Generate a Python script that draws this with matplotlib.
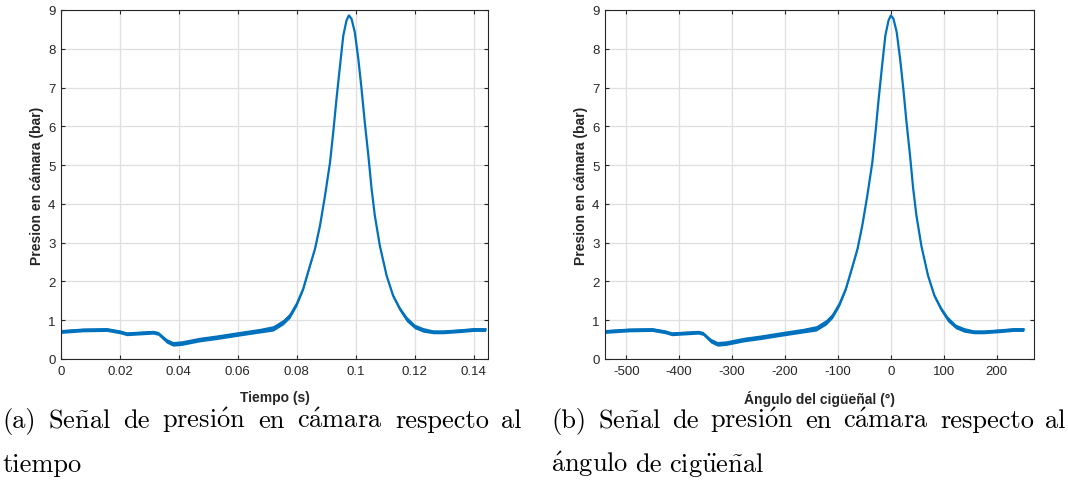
import matplotlib
matplotlib.use("Agg")
import matplotlib.pyplot as plt
from matplotlib.ticker import FormatStrFormatter

# ---- data ----
time_s = [0.0, 0.0076, 0.0155, 0.020, 0.0223, 0.0313, 0.033, 0.0358, 0.038, 0.041,
          0.047, 0.0528, 0.060, 0.0675, 0.072, 0.0754, 0.0777, 0.080, 0.0822, 0.0845,
          0.0862, 0.0879, 0.0896, 0.0913, 0.0924, 0.0935, 0.0947, 0.0958, 0.0969, 0.0977,
          0.0986, 0.0997, 0.1009, 0.102, 0.1031, 0.1043, 0.1054, 0.1065, 0.1082, 0.1105,
          0.1127, 0.115, 0.1173, 0.120, 0.1229, 0.1263, 0.1297, 0.1354, 0.140, 0.1441]
angle_deg = [-540, -494, -451, -426, -414, -364, -355, -340, -327.5, -311,
             -278, -246, -207, -166, -141, -122, -110, -97, -85, -72,
             -63, -54, -44.5, -35, -29, -23, -16.5, -10.4, -4.4, 0,
             5, 11, 17.5, 23.6, 29.6, 36.2, 42.2, 48.3, 57.6, 70.2,
             82.3, 94.9, 107.5, 122.3, 138.2, 156.9, 175.5, 206.8, 232, 251]
pressure_bar = [0.71, 0.75, 0.76, 0.70, 0.65, 0.69, 0.66, 0.47, 0.39, 0.41,
                0.50, 0.56, 0.645, 0.73, 0.79, 0.95, 1.12, 1.42, 1.81, 2.41,
                2.84, 3.44, 4.21, 5.07, 5.85, 6.71, 7.57, 8.34, 8.73, 8.86,
                8.77, 8.43, 7.74, 6.96, 6.10, 5.25, 4.39, 3.70, 2.92, 2.15,
                1.63, 1.29, 1.03, 0.84, 0.75, 0.70, 0.70, 0.73, 0.76, 0.76]
# half-thickness of the visible noise band around the signal
noise_bar = [0.05, 0.05, 0.05, 0.05, 0.05, 0.05, 0.05, 0.06, 0.06, 0.06,
             0.06, 0.06, 0.06, 0.06, 0.07, 0.07, 0.07, 0.06, 0.04, 0.03,
             0.02, 0.01, 0.0, 0.0, 0.0, 0.0, 0.0, 0.0, 0.0, 0.0,
             0.0, 0.0, 0.0, 0.0, 0.0, 0.0, 0.0, 0.01, 0.02, 0.03,
             0.05, 0.06, 0.07, 0.06, 0.06, 0.05, 0.05, 0.05, 0.05, 0.05]

xticks_time = [0, 0.02, 0.04, 0.06, 0.08, 0.1, 0.12, 0.14]
xticks_angle = [-500, -400, -300, -200, -100, 0, 100, 200]
yticks_p = list(range(0, 10))

ylabel = "Presion en cámara (bar)"
xlabel_a = "Tiempo (s)"
xlabel_b = "Ángulo del cigüeñal (°)"

caption_a1 = [r"(a)", r"$\mathrm{Se\tilde{n}al}$", "de", r"$\mathrm{presi\acute{o}n}$", "en",
              r"$\mathrm{c\acute{a}mara}$", "respecto", "al"]
caption_a2 = "tiempo"
caption_b1 = [r"(b)", r"$\mathrm{Se\tilde{n}al}$", "de", r"$\mathrm{presi\acute{o}n}$", "en",
              r"$\mathrm{c\acute{a}mara}$", "respecto", "al"]
caption_b2 = [r"$\mathrm{\acute{a}ngulo}$", "de", r"$\mathrm{cig\ddot{u}e\tilde{n}al}$"]

plt.rcParams['mathtext.fontset'] = 'cm'

LINE = '#0072BD'
DARK = '#262626'

W, H = 1068, 481
fig = plt.figure(figsize=(W / 100, H / 100), dpi=100)
ax1 = fig.add_axes([0.0571, 0.2516, 0.3998, 0.7256])
ax2 = fig.add_axes([0.5665, 0.2516, 0.4017, 0.7256])


def style(ax, xticks, xlim, xlabel):
    ax.set_xlim(*xlim)
    ax.set_ylim(0, 9)
    ax.set_xticks(xticks)
    ax.set_yticks(yticks_p)
    ax.xaxis.set_major_formatter(FormatStrFormatter('%g'))
    ax.yaxis.set_major_formatter(FormatStrFormatter('%g'))
    ax.grid(True, color='#dfdfdf', linewidth=0.9)
    ax.set_axisbelow(True)
    for s in ax.spines.values():
        s.set_color(DARK)
        s.set_linewidth(0.8)
    ax.tick_params(direction='in', length=3, width=0.8, top=True, right=True,
                   colors=DARK, labelsize=9.5, pad=4)
    for lbl in ax.get_xticklabels() + ax.get_yticklabels():
        lbl.set_family('Liberation Sans')
    ax.set_xlabel(xlabel, fontsize=10, fontweight='bold', family='Liberation Sans',
                  color=DARK, labelpad=10)
    ax.set_ylabel(ylabel, fontsize=10, fontweight='bold', family='Liberation Sans',
                  color=DARK, labelpad=3)


def draw(ax, x):
    lo = [p - n for p, n in zip(pressure_bar, noise_bar)]
    hi = [p + n for p, n in zip(pressure_bar, noise_bar)]
    ax.fill_between(x, lo, hi, color=LINE, linewidth=0)
    ax.plot(x, pressure_bar, color=LINE, linewidth=1.6, solid_joinstyle='round')


draw(ax1, time_s)
style(ax1, xticks_time, (0, 0.1449), xlabel_a)
draw(ax2, angle_deg)
style(ax2, xticks_angle, (-540, 270.5), xlabel_b)

# ---- captions (justified first lines, LaTeX-like) ----
FS = 19
cap_kw = dict(family='cmr10', fontsize=FS, color='black', va='baseline', ha='left')
renderer = fig.canvas.get_renderer()


def justified(words, x0, x1, ybase):
    texts = [fig.text(x0 / W, 1 - ybase / H, w, **cap_kw) for w in words]
    widths = [t.get_window_extent(renderer).width for t in texts]
    gap = ((x1 - x0) - sum(widths)) / (len(words) - 1)
    x = x0
    for t, w in zip(texts, widths):
        t.set_x(x / W)
        x += w + gap


justified(caption_a1, 2, 522, 428)
fig.text(2 / W, 1 - 472 / H, caption_a2, **cap_kw)
justified(caption_b1, 551, 1066, 428)
bx = 551
bt = [fig.text(bx / W, 1 - 472 / H, w, **cap_kw) for w in caption_b2]
sp = 7
for t in bt:
    t.set_x(bx / W)
    bx += t.get_window_extent(renderer).width + sp

fig.savefig('out.png', dpi=100)
